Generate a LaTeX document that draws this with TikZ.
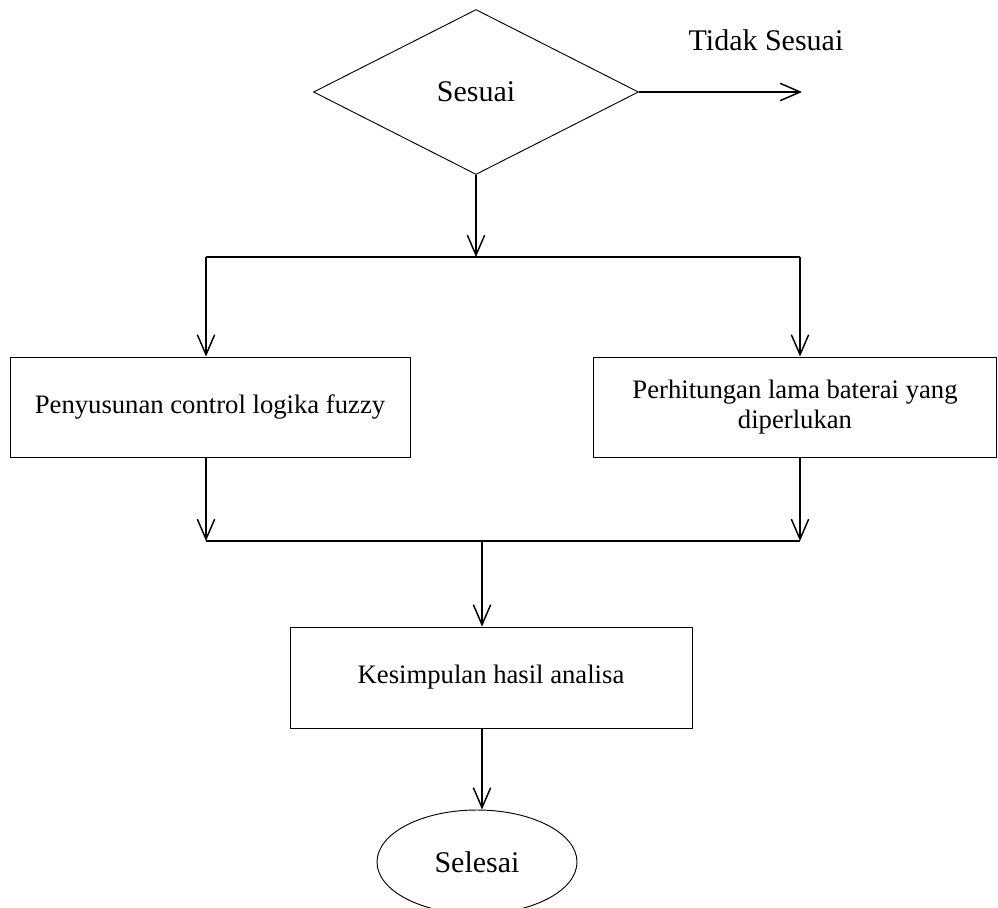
\documentclass[tikz,border=0pt]{standalone}
\usepackage{fontspec}
\setmainfont{Liberation Serif}
\usetikzlibrary{shapes.geometric,arrows.meta}
\begin{document}
\begin{tikzpicture}[x=0.75pt,y=-0.75pt,
  shapeline/.style={draw=black,line width=0.7pt},
  procbox/.style={shapeline,rectangle,inner sep=0pt,font=\fontsize{20}{23}\selectfont,align=center},
  bigtext/.style={font=\fontsize{22.5}{26}\selectfont},
  conn/.style={line width=1.1pt},
  arr/.style={conn,-{Straight Barb[length=15pt,width=13pt,line width=1.1pt]}}
]
\useasboundingbox (0,0) rectangle (998,907);
% nodes
\node[shapeline,diamond,minimum width=243.75pt,minimum height=123.75pt,inner sep=0pt,bigtext] (d) at (476,92) {Sesuai};
\node[bigtext,anchor=center] (tslabel) at (766,40) {Tidak Sesuai};
\coordinate (ts) at (802,92);
\node[procbox,minimum width=300pt,minimum height=75pt] (bl) at (210,407) {Penyusunan control logika fuzzy};
\node[procbox,minimum width=302pt,minimum height=75pt] (br) at (795,407) {Perhitungan lama baterai yang\\diperlukan};
\node[procbox,minimum width=301.5pt,minimum height=75.75pt] (k) at (491,677.5) {Kesimpulan hasil analisa};
\node[shapeline,ellipse,minimum width=150pt,minimum height=78pt,inner sep=0pt,bigtext] (e) at (477,862) {Selesai};
% junction coordinates
\coordinate (j1) at (476,257);
\coordinate (jl) at (206,257);
\coordinate (jr) at (800,257);
\coordinate (ml) at (206,541);
\coordinate (mr) at (800,541);
\coordinate (mc) at (482,541);
% connectors
\draw[arr] (d.east) -- (ts);
\draw[arr] (d.south) -- (j1);
\draw[conn] (jl) -- (jr);
\draw[arr] (jl) -- (jl |- bl.north);
\draw[arr] (jr) -- (jr |- br.north);
\draw[arr] (bl.south -| ml) -- (ml);
\draw[arr] (br.south -| mr) -- (mr);
\draw[conn] (ml) -- (mr);
\draw[arr] (mc) -- (mc |- k.north);
\draw[arr] (k.south -| mc) -- (mc |- e.north);
\end{tikzpicture}
\end{document}
